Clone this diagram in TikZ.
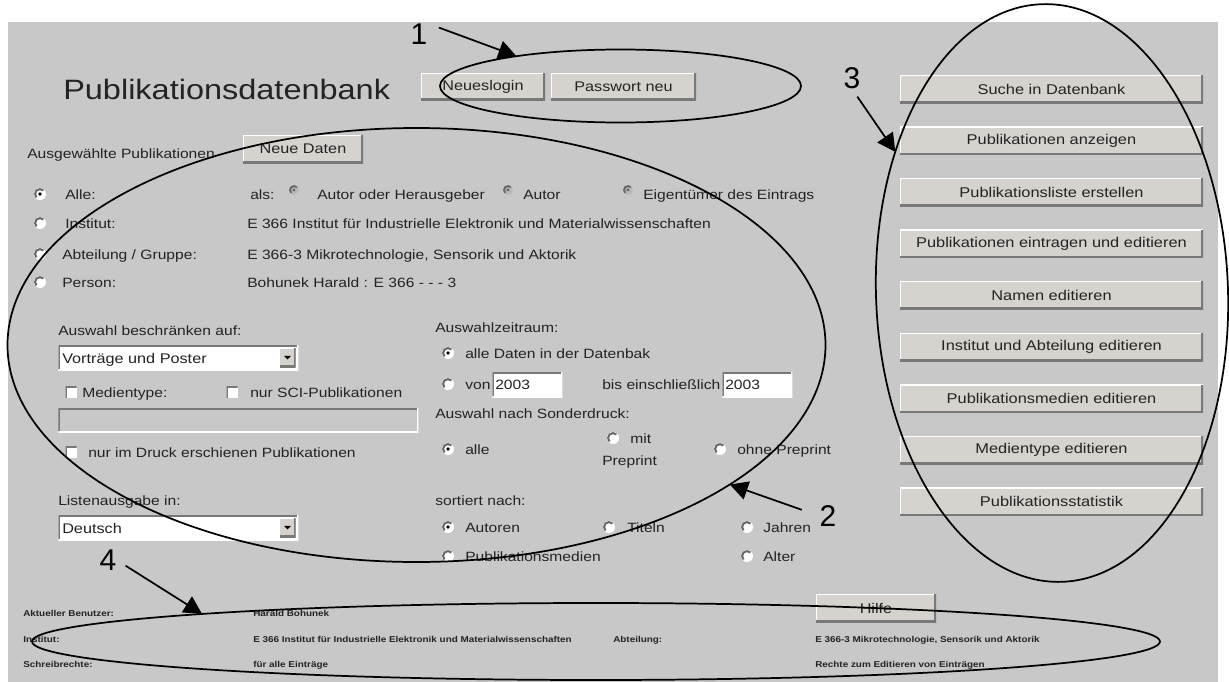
\documentclass[tikz,border=0pt]{standalone}
\usepackage{fontspec}
\setmainfont{Liberation Sans}
\newfontfamily\uifont[FakeStretch=1.16]{Liberation Sans}
\newfontfamily\numfont{Liberation Sans}
\usetikzlibrary{shapes.geometric,arrows.meta}

\definecolor{panel}{RGB}{200,200,200}
\definecolor{btnface}{RGB}{214,211,206}
\definecolor{btndark}{RGB}{120,120,120}
\definecolor{uitext}{RGB}{35,35,35}
\definecolor{rshade}{RGB}{105,105,105}
\definecolor{disradio}{RGB}{185,185,185}

\tikzset{
  wpx/.style={minimum width=#1*0.75pt},
  hpx/.style={minimum height=#1*0.75pt},
  lbl/.style={anchor=base west, inner sep=0, text=uitext,
    font=\uifont\fontsize{10.1pt}{12pt}\selectfont},
  info/.style={anchor=base west, inner sep=0, text=uitext,
    font=\uifont\bfseries\fontsize{6.4pt}{8pt}\selectfont},
  numlbl/.style={inner sep=0, text=black,
    font=\numfont\fontsize{22.5pt}{26pt}\selectfont},
  btn/.style={rectangle, inner sep=0, fill=btnface, hpx=28, text=uitext,
    font=\uifont\fontsize{10.5pt}{12pt}\selectfont,
    path picture={
      \draw[white, line width=1.5pt]
        (path picture bounding box.south west) -- (path picture bounding box.north west)
        -- (path picture bounding box.north east);
      \draw[btndark, line width=3pt]
        (path picture bounding box.south west) -- (path picture bounding box.south east)
        -- (path picture bounding box.north east);
    }},
  sidebtn/.style={btn, wpx=303, font=\uifont\fontsize{10.6pt}{12pt}\selectfont},
  field/.style={rectangle, inner sep=0, fill=white,
    path picture={
      \draw[btndark, line width=2.6pt]
        (path picture bounding box.south west) -- (path picture bounding box.north west)
        -- (path picture bounding box.north east);
      \draw[white, line width=1.5pt]
        (path picture bounding box.south west) -- (path picture bounding box.south east)
        -- (path picture bounding box.north east);
    }},
  disfield/.style={field, fill=panel},
  ddbtn/.style={btn, wpx=16, hpx=19,
    path picture={
      \draw[white, line width=1.2pt]
        (path picture bounding box.south west) -- (path picture bounding box.north west)
        -- (path picture bounding box.north east);
      \draw[btndark, line width=2.4pt]
        (path picture bounding box.south west) -- (path picture bounding box.south east)
        -- (path picture bounding box.north east);
      \fill[black] ([shift={(-2.6pt,1.2pt)}]path picture bounding box.center)
        -- ++(5.2pt,0) -- ++(-2.6pt,-2.6pt) -- cycle;
    }},
  checkbox/.style={rectangle, inner sep=0, fill=white, minimum size=11*0.75pt,
    path picture={
      \draw[btndark, line width=2.4pt]
        (path picture bounding box.south west) -- (path picture bounding box.north west)
        -- (path picture bounding box.north east);
    }},
  radio/.style={circle, inner sep=0, minimum size=12*0.75pt, fill=white,
    path picture={
      \draw[rshade, line width=1.5pt] (path picture bounding box.center)
        ++(45:3.7pt) arc[start angle=45, end angle=225, radius=3.7pt];
    }},
  radioon/.style={radio,
    path picture={
      \draw[rshade, line width=1.5pt] (path picture bounding box.center)
        ++(45:3.7pt) arc[start angle=45, end angle=225, radius=3.7pt];
      \fill[black] (path picture bounding box.center) circle[radius=1.4pt];
    }},
  radiodis/.style={circle, inner sep=0, minimum size=10*0.75pt, fill=disradio,
    path picture={
      \draw[rshade, line width=1.5pt] (path picture bounding box.center)
        ++(45:3pt) arc[start angle=45, end angle=225, radius=3pt];
      \fill[rshade] (path picture bounding box.center) circle[radius=1.2pt];
    }},
  ell/.style={ellipse, draw=black, line width=1.3pt, inner sep=0, outer sep=0},
  arr/.style={draw=black, line width=1.3pt, -{Triangle[length=13.5pt, width=14pt]}},
}

\begin{document}
\begin{tikzpicture}[x=0.75pt, y=-0.75pt]
\useasboundingbox (0,0) rectangle (1229,682);
\fill[panel] (8,22) rectangle (1218,682);

% ---- header ----
\node[lbl, font=\uifont\fontsize{21pt}{24pt}\selectfont] (title) at (63,99) {Publikationsdatenbank};
\node[btn, wpx=124, hpx=27] (bLogin) at (483,86.5) {Neueslogin};
\node[btn, wpx=145, hpx=27] (bPass) at (623.5,86.5) {Passwort neu};

% ---- selection of publications ----
\node[lbl] (tSel) at (27,158) {Ausgewählte Publikationen};
\node[btn, wpx=120] (bNew) at (303,149) {Neue Daten};

\node[radioon] (rAlle) at (40,194) {};
\node[radio] (rInst) at (40,223) {};
\node[radio] (rAbt) at (40,254) {};
\node[radio] (rPers) at (40,282) {};
\node[lbl] (tAlle) at (65,199) {Alle:};
\node[lbl] (tInst) at (65,228) {Institut:};
\node[lbl] (tAbt) at (62,259) {Abteilung / Gruppe:};
\node[lbl] (tPers) at (62,287) {Person:};

\node[lbl] (tAls) at (250,199) {als:};
\node[radiodis] (rAls1) at (294,190) {};
\node[lbl] (tAls1) at (317,199) {Autor oder Herausgeber};
\node[radiodis] (rAls2) at (508,190) {};
\node[lbl] (tAls2) at (523,199) {Autor};
\node[radiodis] (rAls3) at (628,190) {};
\node[lbl] (tAls3) at (643,199) {Eigentümer des Eintrags};

\node[lbl] (vInst) at (247,228) {E 366 Institut für Industrielle Elektronik und Materialwissenschaften};
\node[lbl] (vAbt) at (247,259) {E 366-3 Mikrotechnologie, Sensorik und Aktorik};
\node[lbl] (vPers) at (247,287) {Bohunek Harald : E 366 - - - 3};

% ---- restriction ----
\node[lbl] (tRestr) at (58,335) {Auswahl beschränken auf:};
\node[field, wpx=240, hpx=25, anchor=north west] (dd1) at (58,345) {};
\node[lbl, font=\uifont\fontsize{10.5pt}{12pt}\selectfont] (dd1t) at (62,363) {Vorträge und Poster};
\node[ddbtn] (dd1b) at (287.5,357.5) {};

\node[checkbox] (cMed) at (71,392) {};
\node[lbl] (tMed) at (82,397) {Medientype:};
\node[checkbox] (cSci) at (232,392) {};
\node[lbl] (tSci) at (250,397) {nur SCI-Publikationen};
\node[disfield, wpx=360, hpx=24, anchor=north west] (fMed) at (58,408) {};
\node[checkbox] (cDruck) at (71,452) {};
\node[lbl] (tDruck) at (88,457) {nur im Druck erschienen Publikationen};

\node[lbl] (tList) at (58,505) {Listenausgabe in:};
\node[field, wpx=240, hpx=25, anchor=north west] (dd2) at (58,515) {};
\node[lbl, font=\uifont\fontsize{10.5pt}{12pt}\selectfont] (dd2t) at (62,533) {Deutsch};
\node[ddbtn] (dd2b) at (287.5,527.5) {};

% ---- time range ----
\node[lbl] (tZeit) at (435,332) {Auswahlzeitraum:};
\node[radioon] (rZAlle) at (448,353) {};
\node[lbl] (tZAlle) at (465,358) {alle Daten in der Datenbak};
\node[radio] (rZVon) at (448,384) {};
\node[lbl] (tVon) at (465,389) {von};
\node[field, wpx=70, hpx=25, anchor=north west] (fVon) at (492,372) {};
\node[lbl] (tVonY) at (495,389) {2003};
\node[lbl] (tBis) at (602,389) {bis einschließlich};
\node[field, wpx=70, hpx=25, anchor=north west] (fBis) at (722,372) {};
\node[lbl] (tBisY) at (725,389) {2003};

% ---- offprint ----
\node[lbl] (tSonder) at (435,418) {Auswahl nach Sonderdruck:};
\node[radioon] (rSAlle) at (448,449) {};
\node[lbl] (tSAlle) at (465,454) {alle};
\node[radio] (rSMit) at (613,438) {};
\node[lbl] (tSMit) at (630,443) {mit};
\node[lbl] (tSPre) at (602,465) {Preprint};
\node[radio] (rSOhne) at (720,449) {};
\node[lbl] (tSOhne) at (737,454) {ohne Preprint};

% ---- sorting ----
\node[lbl] (tSort) at (435,505) {sortiert nach:};
\node[radioon] (rAut) at (448,527) {};
\node[lbl] (tAut) at (465,532) {Autoren};
\node[radio] (rTit) at (609,527) {};
\node[lbl] (tTit) at (627,532) {Titeln};
\node[radio] (rJahr) at (747,527) {};
\node[lbl] (tJahr) at (763,532) {Jahren};
\node[radio] (rMed) at (448,556) {};
\node[lbl] (tMedien) at (465,561) {Publikationsmedien};
\node[radio] (rAlt) at (747,556) {};
\node[lbl] (tAlt) at (763,561) {Alter};

% ---- menu buttons ----
\foreach \t [count=\i] in {Suche in Datenbank, Publikationen anzeigen,
    Publikationsliste erstellen, Publikationen eintragen und editieren,
    Namen editieren, Institut und Abteilung editieren,
    Publikationsmedien editieren, Medientype editieren, Publikationsstatistik}
  \node[sidebtn] (side\i) at (1051.5,{89+(\i-1)*51.6}) {\t};

% ---- status footer ----
\node[btn, wpx=120] (bHelp) at (876,608) {Hilfe};
\node[info] (iUser) at (23,616) {Aktueller Benutzer:};
\node[info] (iUserV) at (253,616) {Harald Bohunek};
\node[info] (iInst) at (23,642) {Institut:};
\node[info] (iInstV) at (253,642) {E 366 Institut für Industrielle Elektronik und Materialwissenschaften};
\node[info] (iAbt) at (613,642) {Abteilung:};
\node[info] (iAbtV) at (815,642) {E 366-3 Mikrotechnologie, Sensorik und Aktorik};
\node[info] (iRechte) at (23,667) {Schreibrechte:};
\node[info] (iRechteV) at (253,667) {für alle Einträge};
\node[info] (iRechteR) at (815,667) {Rechte zum Editieren von Einträgen};

% ---- callout ellipses ----
\node[ell, minimum width=361*0.75pt, minimum height=73*0.75pt] (e1) at (620.5,86) {};
\node[ell, minimum width=818*0.75pt, minimum height=434*0.75pt] (e2) at (416.5,345) {};
\node[ell, minimum width=352*0.75pt, minimum height=578*0.75pt, rotate=2] (e3) at (1052,293) {};
\node[ell, minimum width=1128*0.75pt, minimum height=77*0.75pt] (e4) at (596,641.5) {};

% ---- callout numbers and arrows ----
\node[numlbl] (n1) at (419,34) {1};
\node[numlbl] (n2) at (828,516) {2};
\node[numlbl] (n3) at (852,78) {3};
\node[numlbl] (n4) at (108,560) {4};
\draw[arr, shorten <=9pt] (n1.north east) -- (e1.164);
\draw[arr, shorten <=14pt] (n2.west) -- (e2.336);
\draw[arr, shorten <=7pt] (n3.south) -- (e3.136);
\draw[arr, shorten <=8pt] (n4.east) -- (e4.176);
\end{tikzpicture}
\end{document}
